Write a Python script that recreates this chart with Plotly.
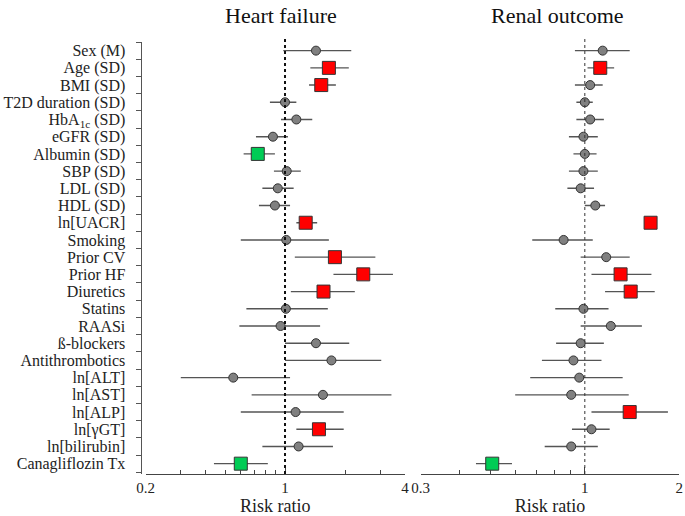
import plotly.graph_objects as go
import numpy as np

labels = ["Sex (M)", "Age (SD)", "BMI (SD)", "T2D duration (SD)", "HbA<sub>1c</sub> (SD)",
          "eGFR (SD)", "Albumin (SD)", "SBP (SD)", "LDL (SD)", "HDL (SD)", "ln[UACR]",
          "Smoking", "Prior CV", "Prior HF", "Diuretics", "Statins", "RAASi", "ß-blockers",
          "Antithrombotics", "ln[ALT]", "ln[AST]", "ln[ALP]", "ln[γGT]", "ln[bilirubin]",
          "Canagliflozin Tx"]

# Heart failure
hf_rr = [1.43, 1.66, 1.52, 1.00, 1.14, 0.87, 0.73, 1.02, 0.92, 0.89, 1.27,
         1.015, 1.78, 2.47, 1.56, 1.01, 0.95, 1.43, 1.71, 0.55, 1.55, 1.13, 1.48, 1.17, 0.60]
hf_lo = [0.98, 1.34, 1.32, 0.84, 0.955, 0.715, 0.62, 0.88, 0.77, 0.74, 1.14,
         0.60, 1.12, 1.75, 1.07, 0.64, 0.59, 1.00, 1.00, 0.30, 0.68, 0.60, 1.14, 0.77, 0.44]
hf_hi = [2.15, 2.09, 1.80, 1.14, 1.37, 1.035, 0.89, 1.20, 1.105, 1.06, 1.45,
         1.66, 2.84, 3.48, 2.24, 1.64, 1.50, 2.10, 3.04, 1.06, 3.42, 1.97, 1.97, 1.74, 0.82]
hf_sig = ["n", "up", "up", "n", "n", "n", "down", "n", "n", "n", "up",
          "n", "up", "up", "up", "n", "n", "n", "n", "n", "n", "n", "up", "n", "down"]

# Renal outcome
rn_rr = [1.14, 1.12, 1.04, 1.00, 1.04, 0.99, 1.00, 0.99, 0.97, 1.08, 1.62,
         0.856, 1.17, 1.30, 1.40, 0.99, 1.21, 0.97, 0.92, 0.96, 0.905, 1.39, 1.05, 0.905, 0.507]
rn_lo = [0.93, 1.02, 0.93, 0.94, 0.94, 0.89, 0.92, 0.89, 0.88, 1.00, 1.58,
         0.68, 0.97, 1.05, 1.16, 0.805, 0.97, 0.81, 0.73, 0.67, 0.60, 1.05, 0.91, 0.745, 0.45]
rn_hi = [1.39, 1.24, 1.14, 1.06, 1.15, 1.10, 1.09, 1.10, 1.07, 1.16, 1.69,
         1.06, 1.39, 1.63, 1.67, 1.19, 1.52, 1.15, 1.13, 1.32, 1.38, 1.84, 1.20, 1.10, 0.586]
rn_sig = ["n", "up", "n", "n", "n", "n", "n", "n", "n", "n", "up",
          "n", "n", "up", "up", "n", "n", "n", "n", "n", "n", "up", "n", "n", "down"]

hf_ticks_major = [0.2, 1, 4]
hf_ticks_minor = [0.3, 0.4, 0.5, 0.6, 0.7, 0.8, 0.9, 2, 3]
rn_ticks_major = [0.3, 1, 2]
rn_ticks_minor = [0.4, 0.5, 0.6, 0.7, 0.8, 0.9]

FONT = "Liberation Serif"
W, H = 685, 516
rows = list(range(len(labels)))
style = {"n": ("circle", "#808080", 9), "up": ("square", "#ff0000", 13), "down": ("square", "#00cc55", 13)}

def fx(px):
    return px / W

def fy(py):
    return 1 - py / H

fig = go.Figure()

def add_panel(rr, lo, hi, sig, xa, ya):
    rr = np.array(rr); lo = np.array(lo); hi = np.array(hi)
    fig.add_trace(go.Scatter(
        x=rr, y=rows, mode="markers", marker=dict(size=1, color="rgba(0,0,0,0)"),
        error_x=dict(type="data", symmetric=False, array=hi - rr, arrayminus=rr - lo,
                     width=0, thickness=1.4, color="#555555"),
        xaxis=xa, yaxis=ya, showlegend=False, hoverinfo="skip"))
    for k, (sym, col, sz) in style.items():
        idx = [i for i, s in enumerate(sig) if s == k]
        if not idx:
            continue
        fig.add_trace(go.Scatter(
            x=rr[idx], y=[rows[i] for i in idx], mode="markers",
            marker=dict(symbol=sym, color=col, size=sz, line=dict(color="#333333", width=1)),
            xaxis=xa, yaxis=ya, showlegend=False))

add_panel(hf_rr, hf_lo, hf_hi, hf_sig, "x", "y")
add_panel(rn_rr, rn_lo, rn_hi, rn_sig, "x2", "y2")

ydom = [fy(474), fy(41.7)]
yrange = [24.6, -0.52]
xd1 = [fx(145.7), fx(405)]
xd2 = [fx(420.7), fx(679.3)]
tickfont = dict(family=FONT, size=15, color="#222")

def xaxis_cfg(dom, anchor, r, major, minor):
    return dict(domain=dom, anchor=anchor, type="log", range=[np.log10(r[0]), np.log10(r[1])],
                tickvals=major, ticktext=[str(v) for v in major], ticks="inside", ticklen=7,
                tickwidth=1.3, tickcolor="#444", showline=True, linecolor="#444", linewidth=1.4,
                showgrid=False, zeroline=False, tickfont=tickfont,
                minor=dict(tickvals=minor, ticks="inside", ticklen=4, tickwidth=1.3, tickcolor="#444", showgrid=False),
                title=dict(text="Risk ratio", font=dict(family=FONT, size=18, color="#222"), standoff=0))

fig.update_layout(
    width=W, height=H, margin=dict(l=0, r=0, t=0, b=0, autoexpand=False),
    plot_bgcolor="white", paper_bgcolor="white",
    xaxis=xaxis_cfg(xd1, "y", (0.2, 4), hf_ticks_major, hf_ticks_minor),
    xaxis2=xaxis_cfg(xd2, "y2", (0.3, 2), rn_ticks_major, rn_ticks_minor),
    yaxis=dict(domain=ydom, range=yrange, anchor="free", position=fx(140.7),
               tickvals=rows, ticktext=labels, ticks="outside", ticklen=5,
               tickcolor="rgba(0,0,0,0)", showline=True, linecolor="#555", linewidth=1.4,
               showgrid=False, zeroline=False, tickfont=dict(family=FONT, size=16, color="#222"),
               ticklabelstandoff=7),
    yaxis3=dict(domain=ydom, range=yrange, overlaying="y", anchor="free", position=fx(140.7),
                tickvals=[i - 0.5 for i in range(len(labels) + 1)], ticks="outside", ticklen=5,
                tickwidth=1.3, tickcolor="#555", showticklabels=False, showline=False,
                showgrid=False, zeroline=False),
    yaxis2=dict(domain=ydom, range=yrange, anchor="x2", visible=False),
)
fig.add_trace(go.Scatter(x=[1], y=[0], xaxis="x", yaxis="y3", mode="markers",
                         marker=dict(size=1, color="rgba(0,0,0,0)"), showlegend=False, hoverinfo="skip"))

# reference lines at RR = 1
fig.add_shape(type="line", xref="x", yref="paper", x0=1, x1=1, y0=ydom[0], y1=fy(37),
              line=dict(color="#111", width=2, dash="dot"))
fig.add_shape(type="line", xref="x2", yref="paper", x0=1, x1=1, y0=ydom[0], y1=fy(37),
              line=dict(color="#333", width=1, dash="dot"))

for txt, xc in [("Heart failure", 281), ("Renal outcome", 557)]:
    fig.add_annotation(text=txt, x=fx(xc), y=fy(15), xref="paper", yref="paper",
                       showarrow=False, font=dict(family=FONT, size=22, color="#111"),
                       xanchor="center", yanchor="middle")

fig.write_html("out.html", config={"displayModeBar": False},
               post_script="document.body.style.margin='0';")
